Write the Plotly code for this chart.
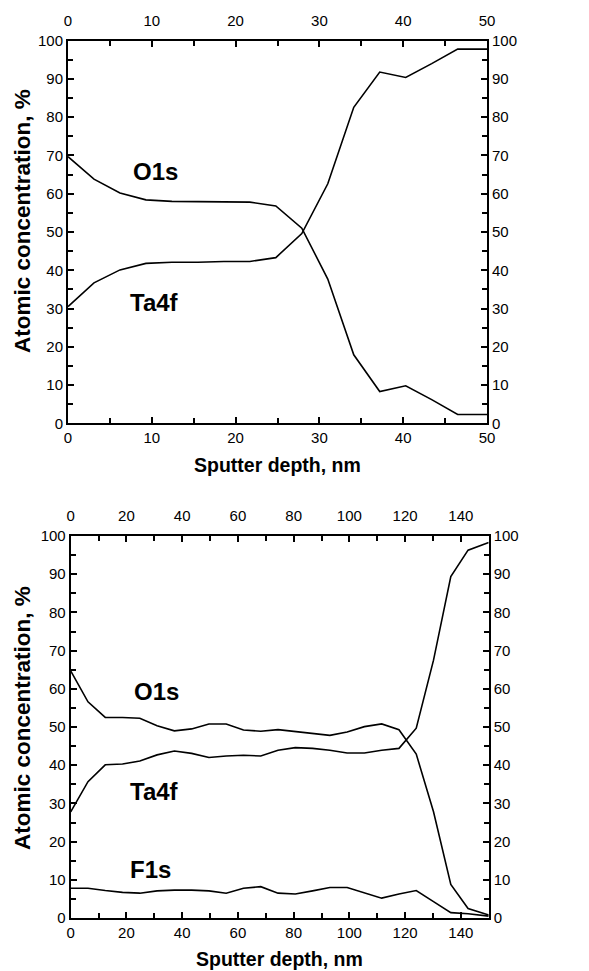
import plotly.graph_objects as go

# ---- Top panel data (sputter depth, nm ; atomic concentration, %) ----
depth_top = [0, 3.1, 6.2, 9.3, 12.4, 15.5, 18.6, 21.7, 24.8, 27.9, 31.0, 34.1, 37.2, 40.3, 43.4, 46.5, 50.0]
o1s_top = [69.7, 63.8, 60.2, 58.4, 58.0, 57.9, 57.8, 57.8, 56.8, 51.0, 37.7, 17.9, 8.3, 9.8, 6.2, 2.3, 2.3]
ta4f_top = [30.5, 36.7, 40.1, 41.8, 42.1, 42.1, 42.3, 42.3, 43.3, 49.6, 62.6, 82.6, 91.8, 90.4, 94.0, 97.8, 97.8]

# ---- Bottom panel data ----
depth_bot = [0, 6.2, 12.4, 18.6, 24.8, 31.0, 37.2, 43.4, 49.6, 55.8, 62.0, 68.2, 74.4, 80.6, 86.8,
             93.0, 99.2, 105.4, 111.6, 117.8, 124.0, 130.2, 136.4, 142.6, 150.0]
o1s_bot = [64.7, 56.6, 52.5, 52.5, 52.3, 50.3, 49.0, 49.5, 50.8, 50.8, 49.2, 48.9, 49.3, 48.8, 48.2,
           47.8, 48.7, 50.1, 50.8, 49.3, 42.9, 27.8, 8.8, 2.5, 0.8]
ta4f_bot = [27.8, 35.7, 40.1, 40.3, 41.1, 42.7, 43.7, 43.1, 42.0, 42.4, 42.6, 42.4, 43.9, 44.6, 44.4,
            43.9, 43.2, 43.2, 43.9, 44.4, 49.7, 67.5, 89.4, 96.3, 98.3]
f1s_bot = [7.8, 7.8, 7.2, 6.7, 6.5, 7.1, 7.3, 7.3, 7.1, 6.5, 7.8, 8.2, 6.5, 6.3, 7.1,
           8.0, 8.0, 6.5, 5.2, 6.3, 7.2, 4.3, 1.4, 1.1, 0.5]

y_ticks = [0, 10, 20, 30, 40, 50, 60, 70, 80, 90, 100]
x_ticks_top = [0, 10, 20, 30, 40, 50]
x_ticks_bot = [0, 20, 40, 60, 80, 100, 120, 140]

W, H = 589, 971
FONT = "Liberation Sans, Arial, sans-serif"
line = dict(color="black", width=1.6)

fig = go.Figure()
# top panel: Ta4f on (x,y), O1s on (x3,y3) -- mirrored axes
fig.add_trace(go.Scatter(x=depth_top, y=ta4f_top, mode="lines", line=line, xaxis="x", yaxis="y", showlegend=False))
fig.add_trace(go.Scatter(x=depth_top, y=o1s_top, mode="lines", line=line, xaxis="x3", yaxis="y3", showlegend=False))
# bottom panel
fig.add_trace(go.Scatter(x=depth_bot, y=ta4f_bot, mode="lines", line=line, xaxis="x2", yaxis="y2", showlegend=False))
fig.add_trace(go.Scatter(x=depth_bot, y=f1s_bot, mode="lines", line=line, xaxis="x2", yaxis="y2", showlegend=False))
fig.add_trace(go.Scatter(x=depth_bot, y=o1s_bot, mode="lines", line=line, xaxis="x4", yaxis="y4", showlegend=False))

dom_x_top = [68 / W, 487 / W]
dom_x_bot = [70.7 / W, 488.7 / W]
dom_y_top = [1 - 423.3 / H, 1 - 40.7 / H]
dom_y_bot = [1 - 918 / H, 1 - 536 / H]

tickfont = dict(family=FONT, size=15, color="black")


def xax(domain, anchor, rng, ticks, minor_dtick, side="bottom", overlaying=None):
    d = dict(domain=domain, anchor=anchor, range=rng, tickvals=ticks, ticks="inside", ticklen=6,
             tickwidth=1.5, tickcolor="black", showline=True, linecolor="black", linewidth=2,
             showgrid=False, zeroline=False, tickfont=tickfont, side=side, fixedrange=True,
             automargin=False, ticklabelstandoff=(7 if side == "top" else 0),
             minor=dict(dtick=minor_dtick, tick0=0, ticks="inside", ticklen=5, tickwidth=1.5,
                        tickcolor="black", showgrid=False))
    if overlaying:
        d["overlaying"] = overlaying
    return d


def yax(domain, anchor, side="left", overlaying=None):
    d = dict(domain=domain, anchor=anchor, range=[0, 100], tickvals=y_ticks, ticks="inside", ticklen=6,
             tickwidth=1.5, tickcolor="black", showline=True, linecolor="black", linewidth=2,
             showgrid=False, zeroline=False, tickfont=tickfont, side=side, fixedrange=True,
             automargin=False,
             minor=dict(dtick=5, tick0=0, ticks="inside", ticklen=5, tickwidth=1.5,
                        tickcolor="black", showgrid=False))
    if overlaying:
        d["overlaying"] = overlaying
    return d


fig.update_layout(
    template="none",
    width=W, height=H, margin=dict(l=0, r=0, t=0, b=0, autoexpand=False),
    paper_bgcolor="white", plot_bgcolor="white",
    xaxis=xax(dom_x_top, "y", [0, 50], x_ticks_top, 5),
    yaxis=yax(dom_y_top, "x"),
    xaxis3=xax(dom_x_top, "y3", [0, 50], x_ticks_top, 5, side="top", overlaying="x"),
    yaxis3=yax(dom_y_top, "x3", side="right", overlaying="y"),
    xaxis2=xax(dom_x_bot, "y2", [0, 150], x_ticks_bot, 10),
    yaxis2=yax(dom_y_bot, "x2"),
    xaxis4=xax(dom_x_bot, "y4", [0, 150], x_ticks_bot, 10, side="top", overlaying="x2"),
    yaxis4=yax(dom_y_bot, "x4", side="right", overlaying="y2"),
)

label_font = dict(family=FONT, size=24, color="black", weight="bold")
xtitle_font = dict(family=FONT, size=19.5, color="black", weight="bold")
ytitle_font = dict(family=FONT, size=22.5, color="black", weight="bold")

ann = []
# series labels
ann.append(dict(x=7.5, y=65.7, xref="x", yref="y", text="O1s", showarrow=False, xanchor="left", yanchor="middle", font=label_font))
ann.append(dict(x=7.1, y=31.5, xref="x", yref="y", text="Ta4f", showarrow=False, xanchor="left", yanchor="middle", font=label_font))
ann.append(dict(x=21.9, y=59.2, xref="x2", yref="y2", text="O1s", showarrow=False, xanchor="left", yanchor="middle", font=label_font))
ann.append(dict(x=20.5, y=33.1, xref="x2", yref="y2", text="Ta4f", showarrow=False, xanchor="left", yanchor="middle", font=label_font))
ann.append(dict(x=20.5, y=12.6, xref="x2", yref="y2", text="F1s", showarrow=False, xanchor="left", yanchor="middle", font=label_font))
# axis titles
for dx, ycen_x, ycen_y in [(dom_x_top, 465, 221), (dom_x_bot, 959, 718)]:
    ann.append(dict(x=(dx[0] + dx[1]) / 2, y=1 - ycen_x / H, xref="paper", yref="paper",
                    xanchor="center", yanchor="middle",
                    text="Sputter depth, nm", showarrow=False, font=xtitle_font))
    ann.append(dict(x=22 / W, y=1 - ycen_y / H, xref="paper", yref="paper", textangle=-90,
                    xanchor="center", yanchor="middle",
                    text="Atomic concentration, %", showarrow=False, font=ytitle_font))
fig.update_layout(annotations=ann)

fig.write_html("out.html", config={"displayModeBar": False},
               post_script="document.body.style.margin='0';document.body.style.overflow='hidden';")
